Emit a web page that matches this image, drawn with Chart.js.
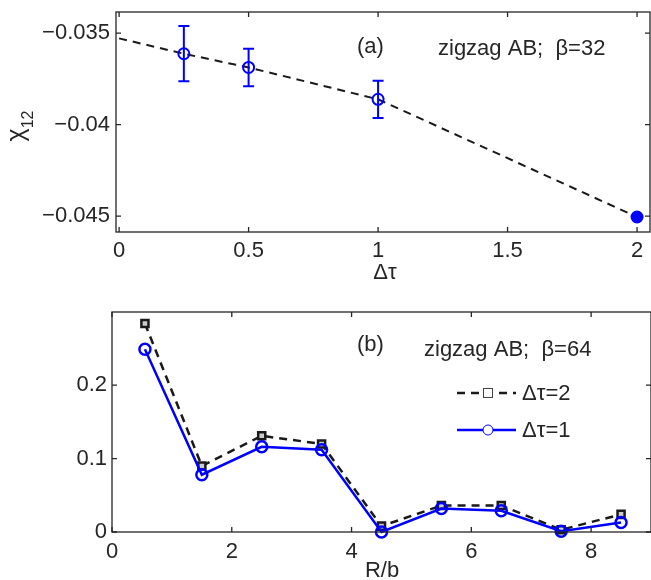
<!DOCTYPE html>
<html>
<head>
<meta charset="utf-8">
<script src="https://cdn.jsdelivr.net/npm/chart.js@4.4.1/dist/chart.umd.min.js"></script>
<style>
  body { margin: 0; background: #fff; }
  #wrap { position: relative; width: 651px; height: 580px; }
  #wrap canvas { position: absolute; left: 0; }
</style>
</head>
<body>
<div id="wrap">
  <canvas id="panelA" width="651" height="290" style="top:0"></canvas>
  <canvas id="panelB" width="651" height="290" style="top:290px"></canvas>
</div>
<script>
// ---- panel (a): chi_12 vs time step, beta=32
const dtau = [0.25, 0.5, 1, 2];
const chiA = [-0.03613, -0.03688, -0.03862, -0.04505];
const errA = [0.00151, 0.00102, 0.00102, 0.00006];
// dashed guide line, extrapolated to dtau=0
const fitX = [0, 0.25, 0.5, 1, 2];
const fitY = [-0.03529, -0.03613, -0.03688, -0.03862, -0.04505];
const xTicksA = [0, 0.5, 1, 1.5, 2];
const yTicksA = [-0.045, -0.04, -0.035];

// ---- panel (b): -chi_12 vs R/b, beta=64
const rb = [0.55, 1.5, 2.5, 3.5, 4.5, 5.5, 6.5, 7.5, 8.5];
const chiDt2 = [0.284, 0.090, 0.131, 0.120, 0.008, 0.036, 0.036, 0.003, 0.024];
const chiDt1 = [0.249, 0.078, 0.116, 0.112, 0.000, 0.032, 0.029, 0.001, 0.013];
const xTicksB = [0, 2, 4, 6, 8];
const yTicksB = [0, 0.1, 0.2];

const FONT = '"Liberation Sans", Arial, sans-serif';
const TXT = '#262626';
const BLUE = '#0000ff';
Chart.defaults.font.family = FONT;
Chart.defaults.font.size = 22;
Chart.defaults.color = TXT;

function fmt(v) {
  return (v < 0 ? '\u2212' : '') + Math.abs(v);
}

// box round the plot area with inward ticks on all four sides
const frame = {
  id: 'frame',
  afterDraw(chart) {
    const { ctx, chartArea: a, scales: { x, y } } = chart;
    ctx.save();
    ctx.strokeStyle = TXT;
    ctx.lineWidth = 1.3;
    ctx.strokeRect(a.left, a.top, a.right - a.left, a.bottom - a.top);
    ctx.beginPath();
    x.ticks.forEach(t => {
      const px = x.getPixelForValue(t.value);
      ctx.moveTo(px, a.bottom); ctx.lineTo(px, a.bottom - 5);
      ctx.moveTo(px, a.top); ctx.lineTo(px, a.top + 5);
    });
    y.ticks.forEach(t => {
      const py = y.getPixelForValue(t.value);
      ctx.moveTo(a.left, py); ctx.lineTo(a.left + 5, py);
      ctx.moveTo(a.right, py); ctx.lineTo(a.right - 5, py);
    });
    ctx.stroke();
    ctx.restore();
  }
};

// rotated label with a subscript, e.g. chi_12
function subLabel(ctx, x, y, main, sub, rotate) {
  ctx.save();
  ctx.translate(x, y);
  if (rotate) ctx.rotate(-Math.PI / 2);
  ctx.fillStyle = TXT;
  ctx.textAlign = 'left';
  ctx.textBaseline = 'alphabetic';
  ctx.font = '25px ' + FONT;
  const w = ctx.measureText(main).width;
  ctx.font = '16px ' + FONT;
  const ws = ctx.measureText(sub).width;
  const start = -(w + ws) / 2;
  ctx.font = '25px ' + FONT;
  ctx.fillText(main, start, 0);
  ctx.font = '16px ' + FONT;
  ctx.fillText(sub, start + w, 9);
  ctx.restore();
}

function text(ctx, s, x, y, align) {
  ctx.fillStyle = TXT;
  ctx.font = '22px ' + FONT;
  ctx.textAlign = align || 'left';
  ctx.textBaseline = 'alphabetic';
  ctx.fillText(s, x, y);
}

function axes(xr, yr, xt, yt, yw, xh, xpad, ypad) {
  return {
    x: {
      type: 'linear', min: xr[0], max: xr[1],
      grid: { display: false, drawTicks: false }, border: { display: false },
      ticks: { padding: xpad, maxRotation: 0, callback: fmt },
      afterBuildTicks: s => { s.ticks = xt.map(v => ({ value: v })); },
      afterFit: s => { s.height = xh; s.paddingLeft = 0; s.paddingRight = 0; }
    },
    y: {
      type: 'linear', min: yr[0], max: yr[1],
      grid: { display: false, drawTicks: false }, border: { display: false },
      ticks: { padding: ypad, callback: fmt },
      afterBuildTicks: s => { s.ticks = yt.map(v => ({ value: v })); },
      afterFit: s => { s.width = yw; s.paddingTop = 0; s.paddingBottom = 0; }
    }
  };
}

// ---------- panel (a)
new Chart(document.getElementById('panelA'), {
  type: 'line',
  data: {
    datasets: [{
      data: dtau.map((t, i) => ({ x: t, y: chiA[i] })),
      showLine: false,
      pointRadius: 5.5,
      pointBorderWidth: 2,
      pointBorderColor: BLUE,
      pointBackgroundColor: dtau.map((t, i) => i === dtau.length - 1 ? BLUE : 'rgba(0,0,0,0)'),
      order: 0,
      clip: false
    }, {
      data: fitX.map((t, i) => ({ x: t, y: fitY[i] })),
      borderColor: '#1a1a1a',
      borderWidth: 2,
      borderDash: [8, 6],
      pointRadius: 0,
      tension: 0,
      order: 1
    }]
  },
  options: {
    responsive: false,
    animation: false,
    events: [],
    layout: { autoPadding: false, padding: { left: 0, right: 1, top: 12, bottom: 0 } },
    plugins: { legend: { display: false }, tooltip: { enabled: false } },
    scales: axes([-0.012, 2.05], [-0.04587, -0.03385], xTicksA, yTicksA, 116, 58, 6, 6)
  },
  plugins: [frame, {
    id: 'errorBars',
    afterDatasetsDraw(chart) {
      const { ctx, scales: { x, y } } = chart;
      ctx.save();
      ctx.strokeStyle = BLUE;
      ctx.lineWidth = 2;
      dtau.forEach((t, i) => {
        const px = x.getPixelForValue(t);
        const y1 = y.getPixelForValue(chiA[i] + errA[i]);
        const y2 = y.getPixelForValue(chiA[i] - errA[i]);
        ctx.beginPath();
        ctx.moveTo(px, y1); ctx.lineTo(px, y2);
        ctx.moveTo(px - 5.5, y1); ctx.lineTo(px + 5.5, y1);
        ctx.moveTo(px - 5.5, y2); ctx.lineTo(px + 5.5, y2);
        ctx.stroke();
      });
      ctx.restore();
    },
    afterDraw(chart) {
      const ctx = chart.ctx;
      text(ctx, '(a)', 357, 53);
      text(ctx, 'zigzag AB;  \u03b2=32', 438, 55);
      text(ctx, '\u0394\u03c4', 385, 279, 'center');
      subLabel(ctx, 24, 126, '\u03c7', '12', true);
    }
  }]
});

// ---------- panel (b)
new Chart(document.getElementById('panelB'), {
  type: 'line',
  data: {
    datasets: [{
      label: '\u0394\u03c4=1',
      data: rb.map((r, i) => ({ x: r, y: chiDt1[i] })),
      borderColor: BLUE,
      borderWidth: 2.5,
      pointStyle: 'circle',
      pointRadius: 5.5,
      pointBorderWidth: 2.5,
      pointBorderColor: BLUE,
      pointBackgroundColor: 'rgba(0,0,0,0)',
      tension: 0,
      order: 0,
      clip: false
    }, {
      label: '\u0394\u03c4=2',
      data: rb.map((r, i) => ({ x: r, y: chiDt2[i] })),
      borderColor: '#1a1a1a',
      borderWidth: 2.5,
      borderDash: [8, 6],
      pointStyle: 'rect',
      pointRadius: 5,
      pointBorderWidth: 2.5,
      pointBorderColor: '#1a1a1a',
      pointBackgroundColor: '#cccccc',
      tension: 0,
      order: 1,
      clip: false
    }]
  },
  options: {
    responsive: false,
    animation: false,
    events: [],
    layout: { autoPadding: false, padding: { left: 0, right: 0, top: 22, bottom: 0 } },
    plugins: { legend: { display: false }, tooltip: { enabled: false } },
    scales: axes([0, 9], [0, 0.2997], xTicksB, yTicksB, 112, 48, 7, 5)
  },
  plugins: [frame, {
    id: 'notes',
    afterDraw(chart) {
      const ctx = chart.ctx;
      text(ctx, '(b)', 357, 61);
      text(ctx, 'zigzag AB;  \u03b2=64', 424, 66);
      text(ctx, 'R/b', 382, 287, 'center');
      subLabel(ctx, 43, 428, '\u2212\u03c7', '12', true);

      // legend
      ctx.save();
      ctx.lineWidth = 2.5;
      ctx.strokeStyle = '#1a1a1a';
      ctx.setLineDash([8, 6]);
      ctx.beginPath(); ctx.moveTo(457, 103); ctx.lineTo(516, 103); ctx.stroke();
      ctx.setLineDash([]);
      ctx.fillStyle = '#fff';
      ctx.lineWidth = 1;
      ctx.strokeStyle = '#444';
      ctx.fillRect(483, 98, 9, 9);
      ctx.strokeRect(483.5, 98.5, 9, 9);
      ctx.strokeStyle = BLUE;
      ctx.lineWidth = 2.5;
      ctx.beginPath(); ctx.moveTo(457, 140); ctx.lineTo(516, 140); ctx.stroke();
      ctx.lineWidth = 1;
      ctx.beginPath(); ctx.arc(488, 140, 5, 0, Math.PI * 2); ctx.fill(); ctx.stroke();
      ctx.restore();
      text(ctx, chart.data.datasets[1].label, 522, 110);
      text(ctx, chart.data.datasets[0].label, 522, 147);
    }
  }]
});
</script>
</body>
</html>
